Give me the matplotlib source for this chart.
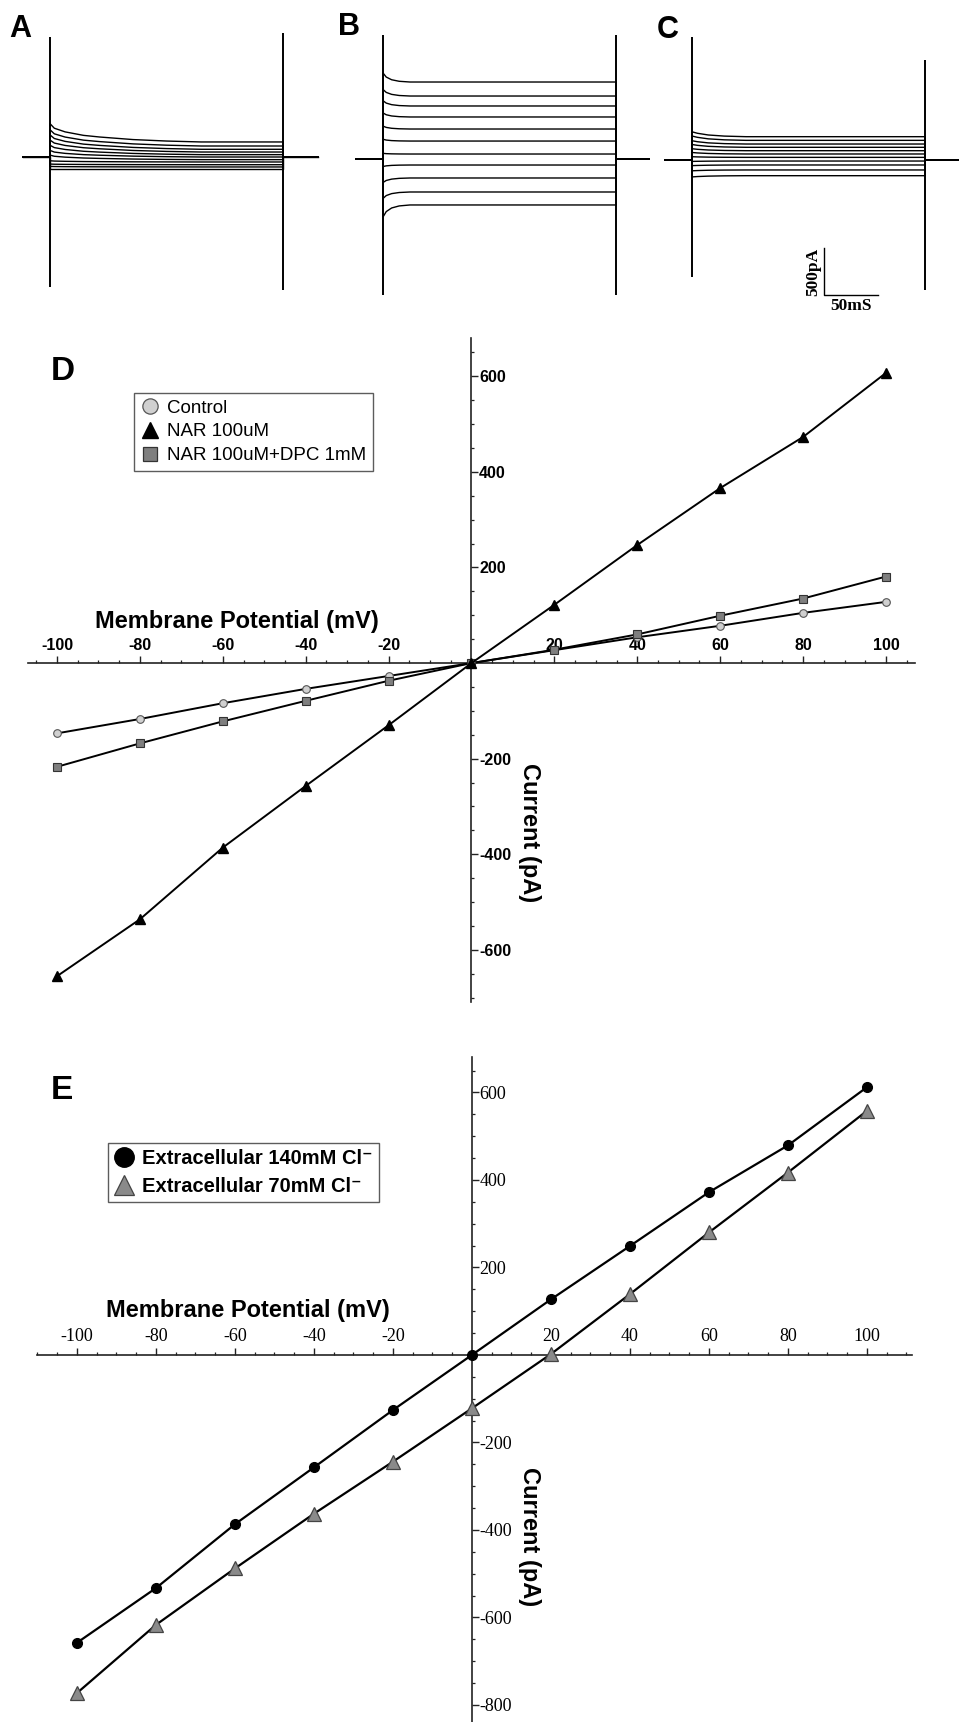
import matplotlib.pyplot as plt
from matplotlib.lines import Line2D
from matplotlib.ticker import MultipleLocator
from matplotlib.font_manager import FontProperties

plt.rcParams['axes.unicode_minus'] = False

W, H = 959, 1722

# ---------------- data ----------------
# whole-cell current traces, one level per step (top = +100 mV ... bottom = -100 mV), pA
A_steady = [160, 117, 82, 53, 25, 0, -28, -53, -82, -106, -131]
A_start = [355, 290, 235, 180, 125, 70, 20, -40, -75, -100, -131]
B_steady = [819, 670, 564, 447, 319, 191, 53, -64, -202, -351, -489]
B_start = [915, 740, 620, 490, 350, 210, 60, -80, -250, -420, -617]
C_steady = [248, 209, 170, 135, 99, 64, 28, -11, -53, -106, -167]
C_start = [300, 255, 205, 165, 120, 80, 35, -15, -60, -115, -180]

# relaxation of the onset current (fraction left), ms
A_relax_t = [0, 4, 14, 31, 46, 77, 108, 140]
A_relax_f = [1, .75, .55, .36, .27, .13, .05, 0]
B_relax_t = [0, 3, 8, 15, 25]
B_relax_f = [1, .55, .25, .08, 0]
C_relax_t = [0, 5, 15, 30, 50]
C_relax_f = [1, .7, .35, .12, 0]

# capacitive spikes (high, low) at step onset / offset, pA
A_spikes = [(1277, -1383), (1319, -1415)]
B_spikes = [(1319, -1447), (1319, -1447)]
C_spikes = [(1309, -1245), (1064, -1383)]

# I-V curves
V = [-100, -80, -60, -40, -20, 0, 20, 40, 60, 80, 100]
D_control = [-147, -117, -84, -54, -27, 0, 27, 54, 78, 105, 128]
D_nar = [-655, -536, -386, -257, -130, 0, 122, 247, 366, 473, 607]
D_dpc = [-217, -168, -122, -79, -37, 0, 28, 60, 99, 135, 181]
E_140 = [-658, -533, -387, -257, -126, 0, 127, 249, 372, 479, 612]
E_70 = [-773, -617, -488, -363, -244, -122, 2, 139, 280, 417, 558]

x_ticks = [-100, -80, -60, -40, -20, 20, 40, 60, 80, 100]
D_yticks = [-600, -400, -200, 200, 400, 600]
E_yticks = [-800, -600, -400, -200, 200, 400, 600]

# ---------------- figure ----------------
fig = plt.figure(figsize=(W / 100, H / 100), dpi=100)

PX_MS = 1.08    # pixels per ms in the trace panels
PX_PA = 0.094   # pixels per pA in the trace panels
T_PRE, T_OFF, T_END = -25, 216, 248


def px_axes(x0, y0, x1, y1):
    return fig.add_axes([x0 / W, 1 - y1 / H, (x1 - x0) / W, (y1 - y0) / H])


def trace_panel(x0, x1, onset_x, base_y, steady, start, rt, rf, spikes):
    ax = px_axes(x0, 20, x1, 310)
    ax.set_xlim((x0 - onset_x) / PX_MS, (x1 - onset_x) / PX_MS)
    ax.set_ylim((base_y - 310) / PX_PA, (base_y - 20) / PX_PA)
    ax.axis('off')
    for s, p in zip(steady, start):
        t = [T_PRE, 0] + list(rt) + [T_OFF, T_OFF, T_END]
        y = [0, 0] + [s + f * (p - s) for f in rf] + [s, 0, 0]
        ax.plot(t, y, color='black', lw=1.0)
    ax.vlines([0, T_OFF], [spikes[0][1], spikes[1][1]], [spikes[0][0], spikes[1][0]],
              color='black', lw=1.4)
    return ax


trace_panel(0, 320, 50, 157, A_steady, A_start, A_relax_t, A_relax_f, A_spikes)
trace_panel(325, 650, 383, 159, B_steady, B_start, B_relax_t, B_relax_f, B_spikes)
axC = trace_panel(655, 959, 692, 160, C_steady, C_start, C_relax_t, C_relax_f, C_spikes)

# scale bar (50 ms / 500 pA)
axC.plot([122, 122, 172], [-936, -1436, -1436], color='black', lw=1.0, clip_on=False)
axC.text(112, -1186, '500pA', rotation=90, ha='center', va='center',
         family='Liberation Serif', weight='bold', fontsize=12.5)
axC.text(147, -1465, '50mS', ha='center', va='top',
         family='Liberation Serif', weight='bold', fontsize=12.5)

for letter, x, y in [('A', 9, 14), ('B', 338, 12), ('C', 657, 15)]:
    fig.text(x / W, 1 - y / H, letter, ha='left', va='top', fontsize=22,
             weight='bold', family='Liberation Sans')


def iv_axes(box, xlim, ylim, yticks, tick_font):
    ax = px_axes(*box)
    ax.set_xlim(*xlim)
    ax.set_ylim(*ylim)
    ax.patch.set_visible(False)
    ax.spines['left'].set_visible(False)
    ax.spines['bottom'].set_visible(False)
    ax.spines['top'].set_position(('data', 0))
    ax.spines['right'].set_position(('data', 0))
    for sp in ('top', 'right'):
        ax.spines[sp].set_color('#222222')
        ax.spines[sp].set_linewidth(1.2)
    ax.xaxis.set_ticks_position('top')
    ax.yaxis.set_ticks_position('right')
    ax.set_xticks(x_ticks)
    ax.set_xticklabels([str(v) for v in x_ticks])
    ax.xaxis.set_minor_locator(MultipleLocator(5))
    ax.set_yticks(yticks)
    ax.set_yticklabels([str(v) for v in yticks])
    ax.yaxis.set_minor_locator(MultipleLocator(50))
    ax.tick_params(which='major', direction='out', length=5, width=1.0, color='#222222')
    ax.tick_params(which='minor', direction='out', length=2.3, width=0.9, color='#222222')
    ax.tick_params(axis='x', pad=2)
    ax.tick_params(axis='y', pad=0.5)
    for lab in ax.get_xticklabels() + ax.get_yticklabels():
        lab.set_fontproperties(tick_font)
    return ax


# ---------------- panel D ----------------
font_D = FontProperties(family='Liberation Sans', weight='bold', size=11.5)
axD = iv_axes((28, 338, 915, 1002), (-107, 107), (-709, 680), D_yticks, font_D)
axD.plot(V, D_control, color='black', lw=1.4, marker='o', ms=5.5,
         mfc='#d0d0d0', mec='#555555', mew=0.8, zorder=3)
axD.plot(V, D_dpc, color='black', lw=1.4, marker='s', ms=6,
         mfc='#7f7f7f', mec='#333333', mew=0.8, zorder=3)
axD.plot(V, D_nar, color='black', lw=1.4, marker='^', ms=7,
         mfc='black', mec='black', zorder=3)

hD = [Line2D([], [], ls='none', marker='o', ms=11, mfc='#d0d0d0', mec='#555555', mew=0.9),
      Line2D([], [], ls='none', marker='^', ms=11, mfc='black', mec='black'),
      Line2D([], [], ls='none', marker='s', ms=10, mfc='#7f7f7f', mec='#333333', mew=0.9)]
legD = axD.legend(hD, ['Control', 'NAR 100uM', 'NAR 100uM+DPC 1mM'],
                  loc='upper left', bbox_to_anchor=(134 / W, 1 - 393 / H),
                  bbox_transform=fig.transFigure, frameon=True, fancybox=False,
                  edgecolor='#333333', borderpad=0.35, labelspacing=0.35,
                  handlelength=1.0, handletextpad=0.4, borderaxespad=0,
                  prop=FontProperties(family='Liberation Sans', size=13.5))
legD.get_frame().set_linewidth(1.0)

fig.text(237 / W, 1 - 622 / H, 'Membrane Potential (mV)', ha='center', va='center',
         fontsize=17, weight='bold', family='Liberation Sans')
fig.text(530 / W, 1 - 833 / H, 'Current (pA)', ha='center', va='center', rotation=270,
         fontsize=17, weight='bold', family='Liberation Sans')
fig.text(51 / W, 1 - 356 / H, 'D', ha='left', va='top', fontsize=24,
         weight='bold', family='Liberation Sans')

# ---------------- panel E ----------------
font_E = FontProperties(family='Liberation Serif', size=13)
axE = iv_axes((37, 1057, 912, 1722), (-110.1, 111.4), (-839, 681), E_yticks, font_E)
axE.plot(V, E_140, color='black', lw=1.6, marker='o', ms=7,
         mfc='black', mec='black', zorder=3)
axE.plot(V, E_70, color='black', lw=1.6, marker='^', ms=9.5,
         mfc='#8a8a8a', mec='#444444', mew=0.9, zorder=3)

hE = [Line2D([], [], ls='none', marker='o', ms=14, mfc='black', mec='black'),
      Line2D([], [], ls='none', marker='^', ms=15, mfc='#8a8a8a', mec='#444444', mew=0.9)]
legE = axE.legend(hE, ['Extracellular 140mM Cl\u207b', 'Extracellular 70mM Cl\u207b'],
                  loc='upper left', bbox_to_anchor=(108 / W, 1 - 1143 / H),
                  bbox_transform=fig.transFigure, frameon=True, fancybox=False,
                  edgecolor='#333333', borderpad=0.3, labelspacing=0.45,
                  handlelength=1.0, handletextpad=0.4, borderaxespad=0,
                  prop=FontProperties(family=['Liberation Sans', 'DejaVu Sans'],
                                      weight='bold', size=14.5))
legE.get_frame().set_linewidth(1.0)

fig.text(248 / W, 1 - 1311 / H, 'Membrane Potential (mV)', ha='center', va='center',
         fontsize=17, weight='bold', family='Liberation Sans')
fig.text(530 / W, 1 - 1537 / H, 'Current (pA)', ha='center', va='center', rotation=270,
         fontsize=17, weight='bold', family='Liberation Sans')
fig.text(51 / W, 1 - 1075 / H, 'E', ha='left', va='top', fontsize=24,
         weight='bold', family='Liberation Sans')

fig.savefig('out.png', dpi=100)
